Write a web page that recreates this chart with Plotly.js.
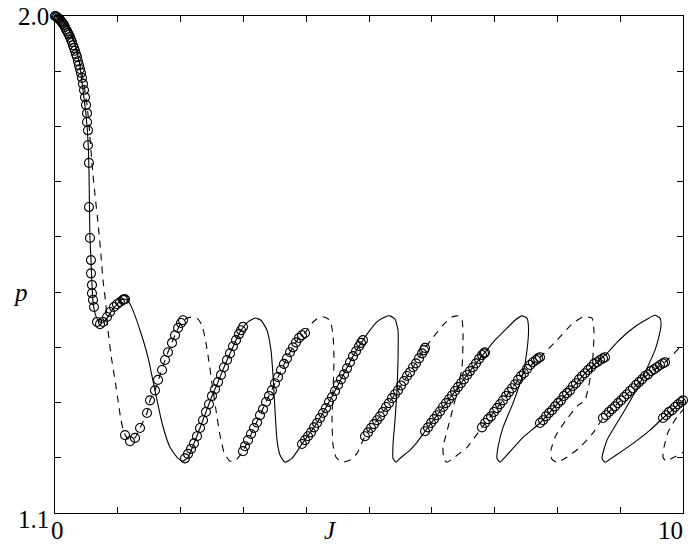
<!DOCTYPE html>
<html>
<head>
<meta charset="utf-8">
<script src="https://cdn.plot.ly/plotly-3.0.1.min.js"></script>
<style>html,body{margin:0;padding:0;background:#fff;}#chart{width:697px;height:544px;}</style>
</head>
<body>
<div id="chart"></div>
<script>
// Solid branch (J, p)
const solidJ = [0.000,0.048,0.111,0.191,0.271,0.350,0.398,0.430,0.462,0.494,0.525,0.541,0.549,0.557,0.573,0.589,0.605,0.637,0.685,0.748,0.828,0.908,0.987,1.051,1.115,1.162,1.226,1.354,1.481,1.592,1.704,1.831,1.959,2.038,2.118,2.213,2.309,2.404,2.500,2.596,2.691,2.787,2.882,2.962,3.073,3.185,3.280,3.376,3.439,3.471,3.503,3.535,3.583,3.662,3.774,3.933,4.172,4.363,4.554,4.745,4.904,5.016,5.127,5.255,5.334,5.414,5.462,5.462,5.446,5.414,5.382,5.382,5.430,5.494,5.653,5.764,5.892,6.083,6.274,6.465,6.656,6.847,7.006,7.166,7.325,7.436,7.516,7.540,7.516,7.452,7.293,7.134,7.054,7.038,7.086,7.197,7.452,7.723,7.962,8.201,8.439,8.631,8.790,8.949,9.108,9.268,9.427,9.554,9.634,9.650,9.602,9.554,9.315,9.045,8.790,8.710,8.758,8.885,9.204,9.475,9.682,9.825,10.000,10.191];
const solidP = [2.000,1.998,1.993,1.982,1.964,1.935,1.909,1.880,1.851,1.821,1.775,1.721,1.654,1.598,1.558,1.513,1.482,1.462,1.449,1.444,1.453,1.467,1.478,1.486,1.487,1.484,1.471,1.431,1.382,1.322,1.263,1.219,1.199,1.194,1.201,1.226,1.254,1.283,1.312,1.337,1.364,1.389,1.413,1.431,1.446,1.453,1.449,1.431,1.395,1.350,1.286,1.232,1.205,1.192,1.199,1.225,1.263,1.301,1.342,1.384,1.413,1.431,1.446,1.455,1.457,1.451,1.431,1.377,1.322,1.268,1.223,1.199,1.192,1.199,1.214,1.228,1.248,1.277,1.306,1.335,1.364,1.391,1.413,1.431,1.449,1.457,1.453,1.435,1.395,1.353,1.299,1.255,1.219,1.199,1.192,1.205,1.237,1.263,1.293,1.322,1.353,1.373,1.389,1.409,1.426,1.440,1.451,1.458,1.453,1.440,1.413,1.395,1.335,1.281,1.232,1.199,1.192,1.201,1.226,1.250,1.272,1.286,1.304,1.330];

// Dashed branch (J, p)
const dashedJ = [0.000,0.048,0.111,0.191,0.271,0.350,0.414,0.462,0.510,0.541,0.573,0.605,0.637,0.685,0.732,0.764,0.812,0.844,0.892,0.955,1.003,1.051,1.099,1.146,1.210,1.274,1.354,1.465,1.513,1.592,1.672,1.752,1.831,1.911,2.006,2.102,2.197,2.277,2.341,2.389,2.436,2.500,2.564,2.627,2.691,2.787,2.882,2.994,3.169,3.360,3.551,3.742,3.885,3.981,4.092,4.188,4.283,4.379,4.427,4.443,4.427,4.411,4.427,4.475,4.570,4.697,4.809,4.936,5.175,5.414,5.653,5.892,6.019,6.178,6.322,6.417,6.481,6.497,6.481,6.369,6.258,6.178,6.194,6.242,6.338,6.561,6.799,7.038,7.277,7.516,7.723,7.994,8.248,8.408,8.551,8.583,8.551,8.439,8.328,8.137,7.978,7.898,7.914,7.994,8.153,8.360,8.567,8.726,8.965,9.204,9.443,9.713,9.952,10.111,10.271,10.462,10.621,10.717,10.733,10.589,10.350,10.111,9.904,9.761,9.697,9.682,9.729,9.825,10.000,10.111];
const dashedP = [2.000,1.998,1.993,1.982,1.962,1.933,1.906,1.875,1.839,1.803,1.757,1.712,1.676,1.625,1.567,1.522,1.476,1.431,1.386,1.341,1.304,1.268,1.246,1.236,1.232,1.236,1.254,1.281,1.304,1.322,1.350,1.377,1.401,1.422,1.444,1.453,1.455,1.451,1.440,1.417,1.386,1.335,1.286,1.241,1.210,1.194,1.196,1.212,1.254,1.301,1.346,1.391,1.417,1.426,1.444,1.453,1.455,1.449,1.422,1.377,1.322,1.268,1.223,1.201,1.192,1.196,1.208,1.239,1.275,1.315,1.355,1.399,1.418,1.440,1.455,1.457,1.449,1.426,1.364,1.304,1.255,1.219,1.197,1.192,1.199,1.219,1.255,1.290,1.326,1.361,1.382,1.413,1.444,1.455,1.453,1.426,1.364,1.304,1.295,1.268,1.241,1.214,1.197,1.192,1.201,1.219,1.245,1.272,1.299,1.326,1.351,1.373,1.400,1.417,1.431,1.444,1.455,1.449,1.426,1.373,1.332,1.301,1.274,1.246,1.219,1.201,1.194,1.199,1.210,1.217];

// Sampled points (open circles)
const circleJ = [
 0.000,0.016,0.032,0.048,0.064,0.080,0.096,0.111,0.127,0.143,0.159,0.175,0.191,0.207,0.223,0.239,0.255,0.271,0.287,0.303,0.318,0.334,0.350,0.366,0.382,0.398,0.414,0.430,0.446,0.462,0.478,0.494,0.510,0.510,0.525,0.525,0.541,0.541,0.557,0.573,0.573,0.589,0.589,0.605,0.621,0.669,0.717,0.764,0.828,0.876,0.939,0.987,1.035,1.083,1.099,1.115,
 1.115,1.194,1.274,1.354,1.465,1.513,1.592,1.640,1.704,1.752,1.799,1.863,1.911,1.959,2.006,2.038,
 2.070,2.118,2.166,2.213,2.261,2.309,2.357,2.404,2.452,2.500,2.548,2.596,2.643,2.691,2.739,2.787,2.834,2.882,2.930,2.962,2.994,
 2.994,3.025,3.073,3.121,3.169,3.217,3.264,3.312,3.360,3.408,3.455,3.503,3.551,3.599,3.646,3.694,3.742,3.790,3.838,3.885,3.933,3.981,
 3.933,3.981,4.029,4.076,4.124,4.172,4.220,4.268,4.315,4.363,4.411,4.459,4.506,4.554,4.602,4.650,4.697,4.745,4.793,4.841,4.873,4.904,
 4.936,4.984,5.032,5.080,5.127,5.175,5.223,5.271,5.318,5.366,5.414,5.462,5.510,5.557,5.605,5.653,5.701,5.748,5.796,5.844,5.876,5.892,
 5.892,5.939,5.987,6.035,6.083,6.131,6.178,6.226,6.274,6.322,6.369,6.417,6.465,6.513,6.561,6.608,6.656,6.704,6.752,6.799,6.831,6.847,
 6.799,6.847,6.895,6.943,6.990,7.038,7.086,7.134,7.182,7.229,7.277,7.325,7.373,7.420,7.468,7.516,7.564,7.611,7.659,7.691,7.723,
 7.723,7.771,7.818,7.866,7.914,7.962,8.010,8.057,8.105,8.153,8.201,8.248,8.296,8.344,8.392,8.439,8.487,8.535,8.583,8.631,8.678,8.726,8.758,
 8.726,8.774,8.822,8.869,8.917,8.965,9.013,9.061,9.108,9.156,9.204,9.252,9.299,9.347,9.395,9.443,9.490,9.538,9.586,9.634,9.682,9.713,
 9.682,9.729,9.777,9.825,9.873,9.920,9.968,10.000
];
const circleP = [
 2.000,1.999,1.998,1.996,1.995,1.993,1.991,1.989,1.986,1.984,1.980,1.976,1.973,1.969,1.966,1.962,1.957,1.953,1.947,1.942,1.937,1.931,1.926,1.918,1.911,1.904,1.897,1.888,1.877,1.866,1.853,1.839,1.824,1.808,1.793,1.766,1.734,1.654,1.598,1.558,1.534,1.513,1.498,1.486,1.473,1.446,1.442,1.446,1.455,1.464,1.473,1.478,1.482,1.486,1.487,1.487,
 1.241,1.230,1.236,1.254,1.281,1.304,1.322,1.341,1.359,1.377,1.391,1.408,1.422,1.435,1.444,1.449,
 1.199,1.207,1.216,1.226,1.239,1.254,1.268,1.283,1.297,1.312,1.324,1.337,1.350,1.364,1.377,1.389,1.402,1.413,1.424,1.431,1.437,
 1.212,1.221,1.232,1.243,1.254,1.264,1.277,1.288,1.301,1.312,1.322,1.335,1.346,1.359,1.370,1.380,1.391,1.400,1.409,1.417,1.422,1.426,
 1.225,1.232,1.239,1.246,1.255,1.263,1.272,1.281,1.290,1.301,1.310,1.321,1.332,1.342,1.351,1.362,1.373,1.384,1.393,1.402,1.408,1.413,
 1.239,1.246,1.254,1.261,1.268,1.275,1.283,1.292,1.299,1.308,1.315,1.322,1.331,1.339,1.348,1.355,1.364,1.371,1.380,1.389,1.395,1.399,
 1.248,1.255,1.263,1.270,1.277,1.284,1.292,1.299,1.306,1.313,1.321,1.328,1.335,1.342,1.350,1.357,1.364,1.371,1.379,1.386,1.389,1.391,
 1.255,1.263,1.270,1.275,1.283,1.290,1.297,1.304,1.312,1.319,1.326,1.333,1.341,1.348,1.353,1.361,1.368,1.373,1.377,1.380,1.382,
 1.263,1.268,1.275,1.281,1.286,1.293,1.299,1.304,1.312,1.317,1.322,1.330,1.335,1.342,1.348,1.353,1.359,1.364,1.370,1.373,1.377,1.380,1.382,
 1.272,1.277,1.283,1.288,1.293,1.299,1.304,1.310,1.315,1.321,1.326,1.332,1.337,1.342,1.348,1.351,1.357,1.360,1.364,1.368,1.371,1.373,
 1.272,1.277,1.283,1.286,1.292,1.297,1.301,1.304
];

const xTickVals = [0,1,2,3,4,5,6,7,8,9,10];
const yTickVals = [1.1,1.2,1.3,1.4,1.5,1.6,1.7,1.8,1.9,2.0];
// Labelled ticks
const xLabelVals = [0, 10];
const xLabelText = ['0', '10'];
const yLabelVals = [1.1, 2.0];
const yLabelText = ['1.1', '2.0'];
const xLabel = 'J', yLabel = 'p';
const xLabelAt = 4.39, yLabelAt = 1.5;

const serif = 'Liberation Serif, Times New Roman, serif';
const labelFont = {family: serif, size: 25, color: '#000'};

const traces = [
  {x: solidJ, y: solidP, type: 'scatter', mode: 'lines', line: {color: '#000', width: 1.1, shape: 'spline', smoothing: 0.5}, hoverinfo: 'skip'},
  {x: dashedJ, y: dashedP, type: 'scatter', mode: 'lines', line: {color: '#000', width: 1.1, dash: '7px,6px', shape: 'spline', smoothing: 0.5}, hoverinfo: 'skip'},
  {x: circleJ, y: circleP, type: 'scatter', mode: 'markers', cliponaxis: false,
   marker: {symbol: 'circle-open', size: 9, color: '#000', line: {color: '#000', width: 1.1}}}
];

const axisCommon = {
  showgrid: false, zeroline: false, showline: true, linecolor: '#000', linewidth: 1.2,
  mirror: 'allticks', ticks: 'inside', ticklen: 6, tickwidth: 1, tickcolor: '#000',
  showticklabels: false, tickmode: 'array', fixedrange: true
};

const annotations = [];
xLabelVals.forEach((v, i) => annotations.push({
  x: v, y: 0, xref: 'x', yref: 'paper', text: xLabelText[i], showarrow: false,
  xanchor: i === xLabelVals.length - 1 ? 'right' : 'center', xshift: 2,
  yanchor: 'top', yshift: -2, font: labelFont
}));
yLabelVals.forEach((v, i) => annotations.push({
  x: 0, y: v, xref: 'paper', yref: 'y', text: yLabelText[i], showarrow: false,
  xanchor: 'right', xshift: -4, yshift: i === 0 ? -6 : 0, font: labelFont
}));
annotations.push({x: xLabelAt, y: 0, xref: 'x', yref: 'paper', text: '<i>' + xLabel + '</i>', showarrow: false,
  yanchor: 'top', yshift: -2, font: labelFont});
annotations.push({x: 0, y: yLabelAt, xref: 'paper', yref: 'y', text: '<i>' + yLabel + '</i>', showarrow: false,
  xanchor: 'center', xshift: -35, font: labelFont});

const layout = {
  width: 697, height: 544,
  margin: {l: 55, r: 14, t: 16, b: 31, pad: 0},
  paper_bgcolor: '#fff', plot_bgcolor: '#fff',
  showlegend: false,
  xaxis: Object.assign({}, axisCommon, {range: [0, 10], tickvals: xTickVals}),
  yaxis: Object.assign({}, axisCommon, {range: [1.1, 2.0], tickvals: yTickVals}),
  annotations: annotations
};

Plotly.newPlot('chart', traces, layout, {displayModeBar: false, staticPlot: true});
</script>
</body>
</html>
